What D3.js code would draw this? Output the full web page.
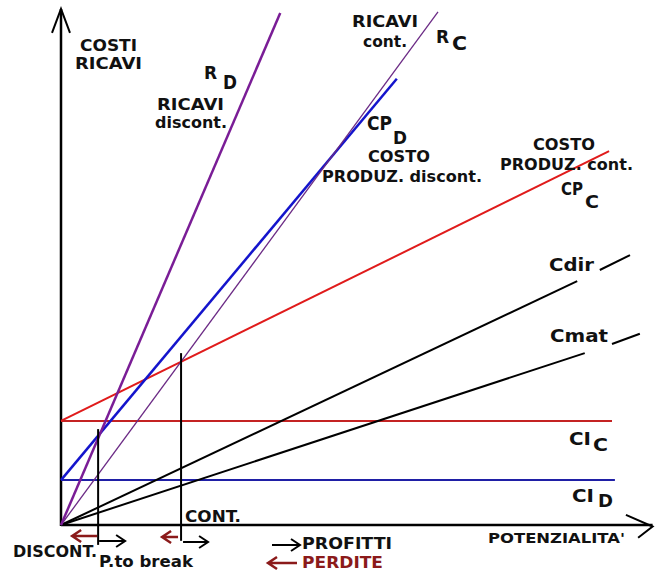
<!DOCTYPE html>
<html>
<head>
<meta charset="utf-8">
<script src="https://cdn.jsdelivr.net/npm/d3@7"></script>
<style>
  html, body { margin: 0; padding: 0; background: #fff; }
  svg { display: block; }
  text { font-family: "DejaVu Sans", Verdana, sans-serif; font-weight: bold; fill: #111; }
</style>
</head>
<body>
<div id="chart"></div>
<script>
// -------------------------------
// Break-even chart: continuo vs discontinuo
// -------------------------------

// line data in chart units (potenzialita', costi/ricavi), both 0..100
const ricaviDiscont = [[0, 0], [37.8, 100.4]];
const ricaviCont = [[0, 0], [65.0, 100.6]];
const costoProdDiscont = [[0, 8.8], [57.9, 87.5]];
const costoProdCont = [[0, 20.4], [94.5, 73.3]];
const costiDiretti = [[0, 0], [89.0, 47.8]];
const costiDirettiTail = [[92.9, 50.0], [98.1, 52.9]];
const costiMateriali = [[0, 0], [90.3, 33.7]];
const costiMaterialiTail = [[95.0, 35.5], [99.8, 37.5]];
const costiIndCont = [[0, 20.4], [95.0, 20.4]];
const costiIndDiscont = [[0, 8.8], [95.5, 8.8]];

// break-even points (x) and the height of their marker lines
const breakEvenX = [6.4, 20.7];
const breakEvenTop = [18.8, 33.7];
const breakEvenBottom = [-3.9, -3.1];

// label texts
const axisTitleY = ["COSTI", "RICAVI"];
const axisTitleX = "POTENZIALITA'";
const legendTexts = ["PROFITTI", "PERDITE"];

const width = 664;
const height = 571;

const svg = d3.select("#chart")
  .append("svg")
  .attr("width", width)
  .attr("height", height);

const x = d3.scaleLinear().domain([0, 100]).range([61, 641]);
const y = d3.scaleLinear().domain([0, 100]).range([525, 15]);

const line = d3.line().x(d => x(d[0])).y(d => y(d[1]));

// axes (no ticks, just arrows)
svg.append("line")
  .attr("x1", x(0)).attr("y1", y(0))
  .attr("x2", x(102)).attr("y2", y(0))
  .attr("stroke", "#000").attr("stroke-width", 2.5);
svg.append("line")
  .attr("x1", x(0)).attr("y1", y(0) + 1)
  .attr("x2", x(0)).attr("y2", y(101.2))
  .attr("stroke", "#000").attr("stroke-width", 2.5);

// open arrow heads
svg.append("path")
  .attr("d", `M${x(0) - 9},${y(96.5)} L${x(0)},${y(101.2)} L${x(0) + 9},${y(96.5)}`)
  .attr("fill", "none").attr("stroke", "#000").attr("stroke-width", 2);
svg.append("path")
  .attr("d", `M${x(97.4)},${y(2)} L${x(102)},${y(-0.3)} L${x(99.5)},${y(-2.5)}`)
  .attr("fill", "none").attr("stroke", "#000").attr("stroke-width", 2);

// cost / revenue lines
const series = [
  { d: costiIndCont, color: "#c42323", w: 2 },
  { d: costiIndDiscont, color: "#1f1fa6", w: 2 },
  { d: costiDiretti, color: "#000", w: 2 },
  { d: costiDirettiTail, color: "#000", w: 2 },
  { d: costiMateriali, color: "#000", w: 2 },
  { d: costiMaterialiTail, color: "#000", w: 2 },
  { d: costoProdCont, color: "#e01b1b", w: 2 },
  { d: costoProdDiscont, color: "#1414cc", w: 2.5 },
  { d: ricaviCont, color: "#6b2a85", w: 1.3 },
  { d: ricaviDiscont, color: "#7a1d96", w: 2.5 }
];

svg.selectAll("path.serie")
  .data(series)
  .enter()
  .append("path")
  .attr("class", "serie")
  .attr("d", s => line(s.d))
  .attr("fill", "none")
  .attr("stroke", s => s.color)
  .attr("stroke-width", s => s.w);

// break-even markers
svg.selectAll("line.be")
  .data(breakEvenX)
  .enter()
  .append("line")
  .attr("class", "be")
  .attr("x1", d => x(d)).attr("x2", d => x(d))
  .attr("y1", (d, i) => y(breakEvenTop[i]))
  .attr("y2", (d, i) => y(breakEvenBottom[i]))
  .attr("stroke", "#000").attr("stroke-width", 2);

// small horizontal arrows
function arrow(x1, x2, yy, color, sw) {
  const dir = x2 > x1 ? 1 : -1;
  svg.append("path")
    .attr("d", `M${x1},${yy} L${x2},${yy} M${x2 - dir * 9},${yy - 6} L${x2},${yy} L${x2 - dir * 9},${yy + 6}`)
    .attr("fill", "none").attr("stroke", color).attr("stroke-width", sw || 2);
}
const dark = "#000";
const loss = "#8b1a1a";
const b0 = x(breakEvenX[0]), b1 = x(breakEvenX[1]);
arrow(b0 - 1, b0 - 26, 536, loss, 2.5);
arrow(b0 + 1, b0 + 27, 541, dark);
arrow(b1 - 3, b1 - 19, 537, loss, 2.5);
arrow(b1 + 2, b1 + 27, 542, dark);
arrow(272, 300, 545, dark);
arrow(297, 268, 563, loss, 2.5);

// labels
function label(t, lx, ly, size, w, color) {
  const el = svg.append("text")
    .attr("x", lx).attr("y", ly)
    .style("font-size", size + "px")
    .text(t);
  if (w) el.attr("textLength", w).attr("lengthAdjust", "spacingAndGlyphs");
  if (color) el.style("fill", color);
}

label(axisTitleY[0], 80, 51, 15, 57);
label(axisTitleY[1], 75, 69, 15, 67);

label("R", 204, 79, 17);
label("D", 223, 89, 19, 14);
label("RICAVI", 157, 110, 15, 67);
label("discont.", 155, 128, 15, 72);

label("RICAVI", 352, 27, 15, 66);
label("cont.", 363, 47, 15, 44);
label("R", 436, 43, 17);
label("C", 452, 50, 19, 15);

label("CP", 367, 130, 20, 25);
label("D", 393, 144, 18, 14);
label("COSTO", 368, 162, 15, 62);
label("PRODUZ. discont.", 322, 182, 15, 160);

label("COSTO", 533, 150, 15, 62);
label("PRODUZ. cont.", 500, 170, 15, 133);
label("CP", 561, 195, 18, 22);
label("C", 585, 208, 18, 14);

label("Cdir", 549, 271, 18, 45);
label("Cmat", 550, 342, 18, 58);

label("CI", 569, 445, 18, 22);
label("C", 593, 451, 18, 15);
label("CI", 572, 502, 18, 22);
label("D", 598, 507, 18, 15);

label(axisTitleX, 488, 543, 14, 137);
label("CONT.", 185, 522, 15, 56);
label("DISCONT.", 13, 557, 15, 84);
label("P.to break", 99, 567, 15, 94);

label(legendTexts[0], 302, 549, 15, 90);
label(legendTexts[1], 302, 568, 15, 81, loss);
</script>
</body>
</html>
